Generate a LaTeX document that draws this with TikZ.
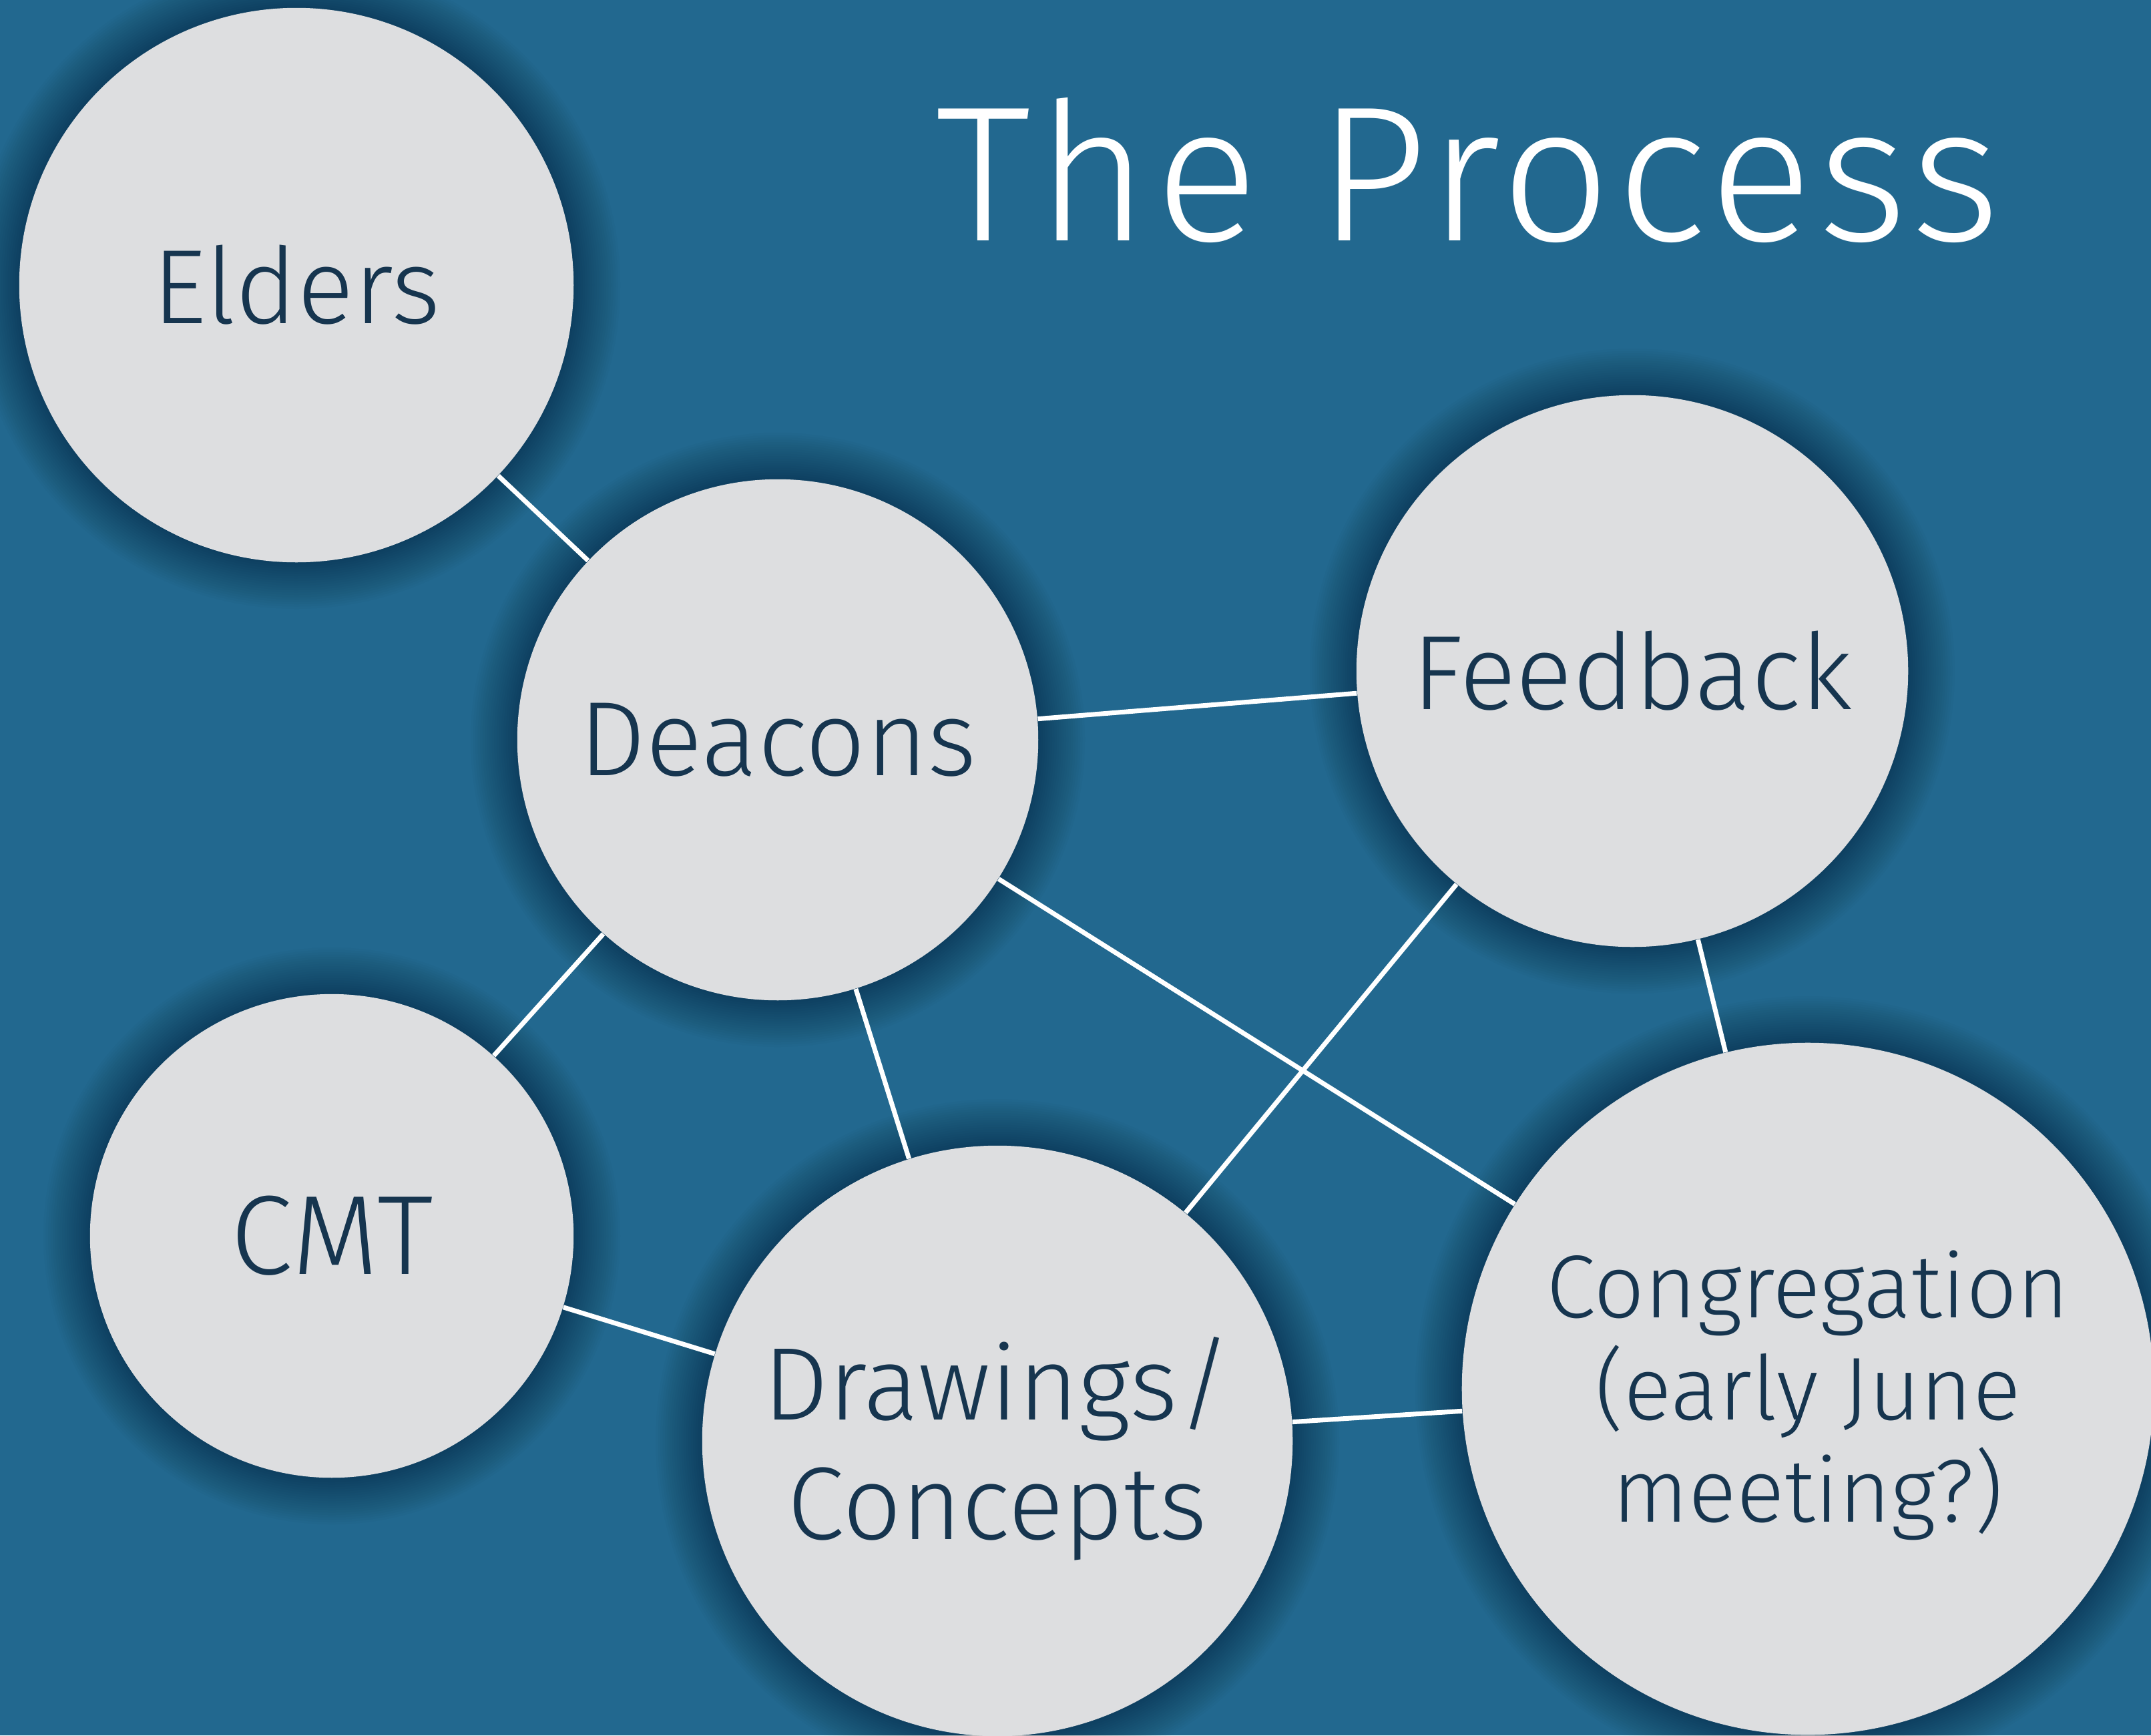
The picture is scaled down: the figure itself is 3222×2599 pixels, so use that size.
\documentclass[tikz,border=0pt]{standalone}
\usepackage{fontspec}
\setmainfont{Fira Sans Light}
\definecolor{bg}{HTML}{22688F}
\definecolor{cfill}{HTML}{DDDEE0}
\definecolor{ctext}{HTML}{16354F}
\begin{document}
\begin{tikzpicture}[x=0.01cm,y=-0.01cm,
  bub/.style={circle, fill=cfill, inner sep=0pt, align=center, text=ctext,
              font=\fontsize{45}{54}\selectfont},
  txt/.style={inner sep=0pt, align=center, text=ctext},
  link/.style={white, line width=2pt}]
\useasboundingbox (0,0) rectangle (3222,2599);
\clip (0,0) rectangle (3222,2599);
\fill[bg] (0,0) rectangle (3222,2599);
% shadows
\foreach \cx/\cy/\r in {444/427/415, 1165/1108/390, 2445/1005/413, 497/1851/362, 1494/2158/442, 2708/2080/518}{
  \foreach \k in {1,...,20}{
    \fill[black,opacity=0.016] (\cx,\cy) circle[radius={(\r+3.5*\k)*0.01cm}];
  }
}
% bubbles
\node[bub, minimum size=8.30cm] (eld) at (444,427) {Elders};
\node[bub, minimum size=7.80cm] (dea) at (1165,1108) {Deacons};
\node[bub, minimum size=8.26cm] (fee) at (2445,1005) {Feedback};
\node[bub, minimum size=7.24cm, font=\fontsize{48}{54}\selectfont] (cmt) at (497,1851) {CMT};
\node[bub, minimum size=8.84cm] (dra) at (1494,2158) {};
\node[bub, minimum size=10.36cm] (con) at (2708,2080) {};
\node[txt, font=\fontsize{44}{51}\selectfont] (dratext) at (1494,2170) {Drawings/\\Concepts};
\node[txt, font=\fontsize{38}{43.5}\selectfont] (context) at (2708,2090) {Congregation\\(early June\\meeting?)};
% links
\draw[link] (eld) -- (dea);
\draw[link] (dea) -- (fee);
\draw[link] (dea) -- (con);
\draw[link] (dea) -- (cmt);
\draw[link] (dea) -- (dra);
\draw[link] (fee) -- (dra);
\draw[link] (fee) -- (con);
\draw[link] (cmt) -- (dra);
\draw[link] (dra) -- (con);
% title
\node[anchor=base, text=white, font=\fontsize{82}{90}\selectfont\addfontfeatures{LetterSpace=3}, inner sep=0pt] (title) at (2199,360) {The Process};
\end{tikzpicture}
\end{document}
